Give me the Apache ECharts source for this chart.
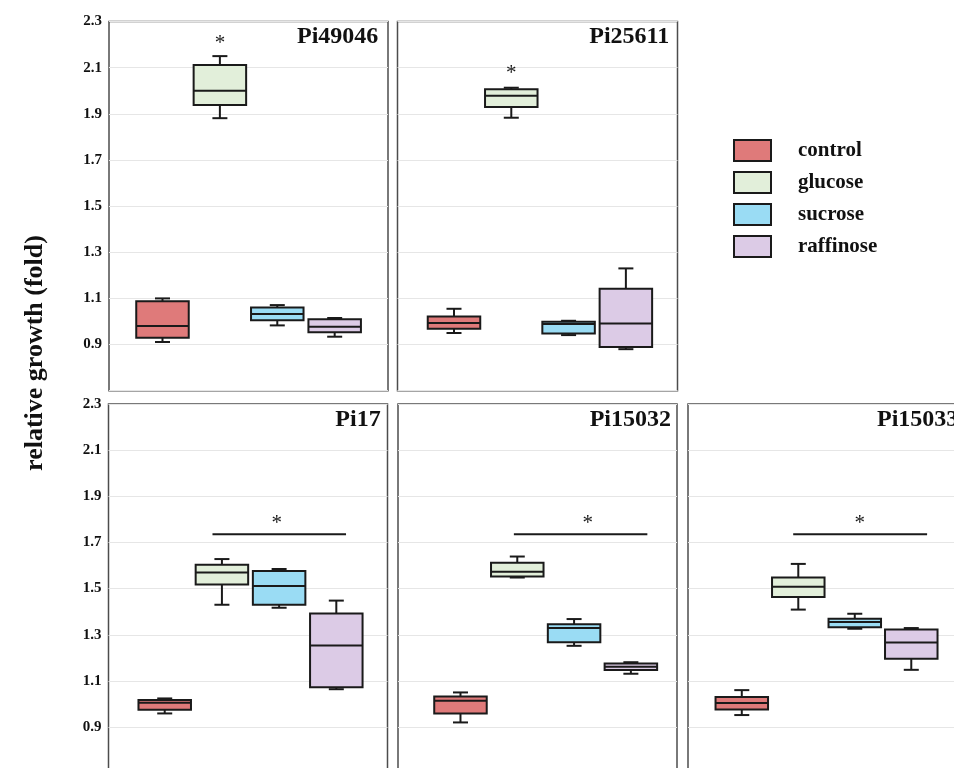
<!DOCTYPE html>
<html><head><meta charset="utf-8">
<script src="https://cdn.jsdelivr.net/npm/echarts@6/dist/echarts.min.js"></script>
<style>html,body{margin:0;padding:0;background:#fff}#c{width:954px;height:768px}</style>
</head><body><div id="c"></div>
<script>
// ---------- data ----------
const categories = ['control', 'glucose', 'sucrose', 'raffinose'];
const panelNames = ['Pi49046', 'Pi25611', 'Pi17', 'Pi15032', 'Pi15033'];
const yTicks = ['0.9', '1.1', '1.3', '1.5', '1.7', '1.9', '2.1', '2.3'];
// each row: [min, Q1, median, Q3, max] for control, glucose, sucrose, raffinose
const pi49046 = [[0.911, 0.930, 0.980, 1.088, 1.100], [1.881, 1.938, 2.000, 2.111, 2.150], [0.983, 1.005, 1.032, 1.061, 1.071], [0.934, 0.953, 0.977, 1.010, 1.015]];
const pi25611 = [[0.950, 0.969, 0.993, 1.022, 1.055], [1.883, 1.929, 1.978, 2.006, 2.013], [0.941, 0.948, 0.989, 0.999, 1.003], [0.880, 0.889, 0.991, 1.142, 1.230]];
const pi17    = [[0.959, 0.975, 1.005, 1.017, 1.024], [1.430, 1.518, 1.570, 1.603, 1.628], [1.417, 1.430, 1.511, 1.576, 1.585], [1.064, 1.073, 1.253, 1.392, 1.448]];
const pi15032 = [[0.920, 0.959, 1.014, 1.032, 1.050], [1.548, 1.552, 1.573, 1.612, 1.639], [1.252, 1.268, 1.329, 1.346, 1.368], [1.131, 1.147, 1.161, 1.175, 1.181]];
const pi15033 = [[0.952, 0.976, 1.004, 1.030, 1.060], [1.409, 1.464, 1.508, 1.548, 1.607], [1.326, 1.333, 1.355, 1.369, 1.391], [1.148, 1.196, 1.266, 1.323, 1.329]];
// significance annotations (category units / y values)
const starX = [1, 1, 1.96, 2.24, 2.09];
const starY = [2.204, 2.074, 1.783, 1.783, 1.783];
const barY = [null, null, 1.736, 1.736, 1.736];
const barFrom = [null, null, 0.835, 0.94, 0.91];
const barTo = [null, null, 3.17, 3.29, 3.28];

const panelData = [pi49046, pi25611, pi17, pi15032, pi15033];

// ---------- layout / style ----------
const colors = ['#df7a7a', '#e2efda', '#9adcf4', '#dccbe6'];
const INK = '#1a1a1a';
const SERIF = '"Liberation Serif", "Times New Roman", serif';
const BOX = 52.5, CAP = 15, H = 369.2;
const layout = [
  { left: 109,   top: 21.5, width: 279, xmin: -0.932, xmax: 3.929, labels: true,  tRight: 575.7 },
  { left: 397.5, top: 21.5, width: 280, xmin: -0.986, xmax: 3.901, labels: false, tRight: 284.7 },
  { left: 108.5, top: 404,  width: 279, xmin: -0.983, xmax: 3.895, labels: true,  tRight: 573.3 },
  { left: 398,   top: 404,  width: 279, xmin: -1.100, xmax: 3.812, labels: false, tRight: 283 },
  { left: 688,   top: 404,  width: 280, xmin: -0.952, xmax: 4.004, labels: false, tLeft: 877 }
];

function boxRender(params, api) {
  const x = api.value(0);
  const p = [1, 2, 3, 4, 5].map(k => api.coord([x, api.value(k)]));
  const cx = p[0][0];
  const st = { stroke: INK, lineWidth: 2 };
  return {
    type: 'group', children: [
      { type: 'line', shape: { x1: cx, y1: p[4][1], x2: cx, y2: p[3][1] }, style: st },
      { type: 'line', shape: { x1: cx, y1: p[0][1], x2: cx, y2: p[1][1] }, style: st },
      { type: 'line', shape: { x1: cx - CAP / 2, y1: p[4][1], x2: cx + CAP / 2, y2: p[4][1] }, style: st },
      { type: 'line', shape: { x1: cx - CAP / 2, y1: p[0][1], x2: cx + CAP / 2, y2: p[0][1] }, style: st },
      { type: 'rect', shape: { x: cx - BOX / 2, y: p[3][1], width: BOX, height: p[1][1] - p[3][1] },
        style: { fill: colors[Math.round(x)], stroke: INK, lineWidth: 2 } },
      { type: 'line', shape: { x1: cx - BOX / 2, y1: p[2][1], x2: cx + BOX / 2, y2: p[2][1] }, style: st }
    ]
  };
}
function starRender(params, api) {
  const pt = api.coord([api.value(0), api.value(1)]);
  return { type: 'text', x: pt[0], y: pt[1],
    style: { text: '*', fill: INK, font: '21px ' + SERIF, align: 'center', verticalAlign: 'middle' } };
}

const grid = [], xAxis = [], yAxis = [], series = [], title = [];
layout.forEach((L, i) => {
  grid.push({ left: L.left, top: L.top, width: L.width, height: H, show: true,
    outerBoundsMode: 'none', containLabel: false,
    borderColor: '#4d4d4d', borderWidth: 1.5, backgroundColor: 'transparent' });
  xAxis.push({ type: 'value', gridIndex: i, min: L.xmin, max: L.xmax, show: false });
  yAxis.push({ type: 'value', gridIndex: i, min: 0.7, max: 2.3, interval: 0.2,
    axisLine: { show: false }, axisTick: { show: false },
    splitLine: { show: true, lineStyle: { color: '#e6e6e6', width: 1 } },
    axisLabel: { show: L.labels, margin: 7, color: '#111', fontFamily: SERIF, fontWeight: 'bold', fontSize: 15,
      formatter: v => { const s = (+v).toFixed(1); return yTicks.includes(s) ? s : ''; } } });
  const t = { text: panelNames[i], top: L.top + 3.5, padding: 0,
    textStyle: { fontFamily: SERIF, fontWeight: 'bold', fontSize: 24, color: '#111' } };
  if (L.tLeft != null) t.left = L.tLeft; else t.right = L.tRight;
  title.push(t);
  series.push({ type: 'custom', xAxisIndex: i, yAxisIndex: i, renderItem: boxRender, silent: true,
    encode: { x: 0, y: [1, 2, 3, 4, 5] },
    data: panelData[i].map((r, k) => [k].concat(r)) });
  series.push({ type: 'custom', xAxisIndex: i, yAxisIndex: i, renderItem: starRender, silent: true,
    encode: { x: 0, y: 1 }, data: [[starX[i], starY[i]]] });
  if (barY[i] != null) {
    series.push({ type: 'line', xAxisIndex: i, yAxisIndex: i, symbol: 'none', silent: true,
      lineStyle: { color: INK, width: 2 }, data: [[barFrom[i], barY[i]], [barTo[i], barY[i]]] });
  }
});
categories.forEach((c, k) => {
  series.push({ type: 'line', name: c, xAxisIndex: 0, yAxisIndex: 0, data: [],
    color: colors[k], itemStyle: { color: colors[k] } });
});

const chart = echarts.init(document.getElementById('c'), null, { renderer: 'canvas' });
chart.setOption({
  animation: false,
  backgroundColor: '#fff',
  title, grid, xAxis, yAxis, series,
  legend: { orient: 'vertical', left: 733, top: 139, padding: 0, itemWidth: 37, itemHeight: 21, itemGap: 9,
    icon: 'rect', selectedMode: false, data: categories,
    itemStyle: { borderColor: INK, borderWidth: 2 },
    textStyle: { fontFamily: SERIF, fontWeight: 'bold', fontSize: 21, color: '#111', padding: [0, 0, 0, 22] } },
  graphic: [{ type: 'text', x: 35, y: 353, rotation: Math.PI / 2,
    style: { text: 'relative growth (fold)', x: 0, y: 0, align: 'center', verticalAlign: 'middle',
      font: 'bold 26px ' + SERIF, fill: '#111' } }]
});
</script></body></html>
